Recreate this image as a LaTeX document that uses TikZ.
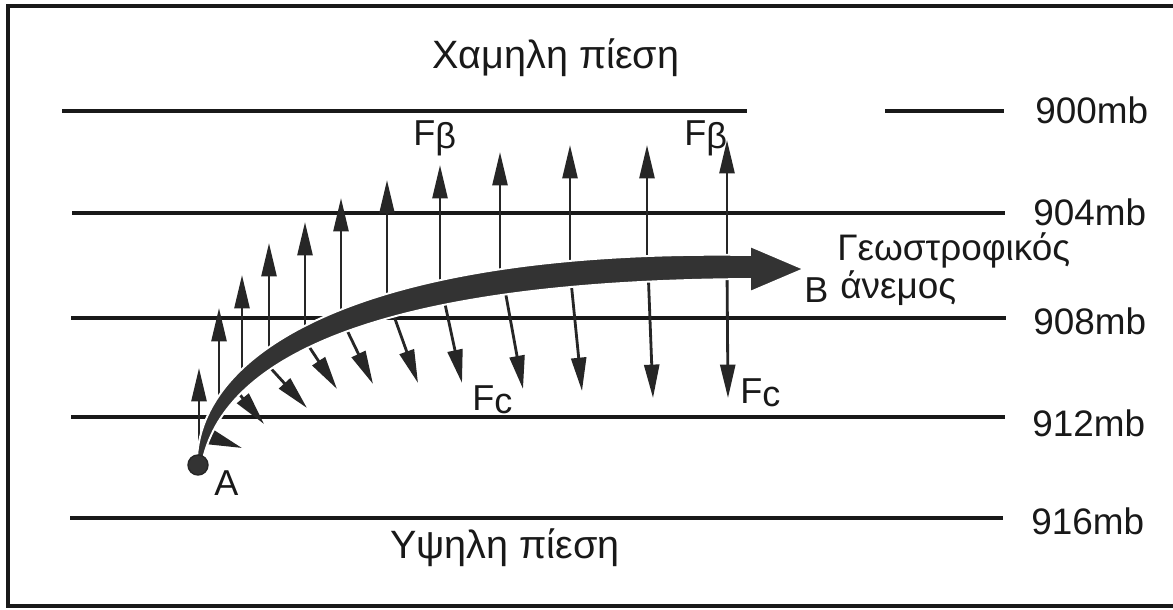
\documentclass[tikz,border=0pt]{standalone}
\usepackage{fontspec}
\setmainfont{Liberation Sans}
\usetikzlibrary{arrows.meta}
\begin{document}
\begin{tikzpicture}[x=0.02cm,y=-0.02cm,
  iso/.style={line width=2.1pt,draw=black!90},
  frc/.style={line width=1.6pt,draw=black!85,-{Triangle[length=19pt,width=8.5pt]}},
  lbl/.style={font=\fontsize{21}{25}\selectfont,inner sep=0pt,text=black!90},
  ttl/.style={font=\fontsize{22.5}{26}\selectfont,inner sep=0pt,text=black!90},
  flbl/.style={font=\fontsize{20.5}{24}\selectfont,inner sep=0pt,text=black!90}]
\useasboundingbox (0,0) rectangle (1173,609);
\fill[white] (0,0) rectangle (1173,609);
% frame
\draw[line width=1.8pt,black!90] (1180,6) -- (8,6) -- (8,606) -- (1180,606);
% isobars
\draw[iso] (62,111) -- (747,111);
\draw[iso] (885,111) -- (1004,111);
\draw[iso] (72,213) -- (1005,213);
\draw[iso] (71,318) -- (1006,318);
\draw[iso] (71,417) -- (1005,417);
\draw[iso] (70,518) -- (1003,518);
% pressure labels
\node[lbl,anchor=base west] (p900) at (1035,123) {900mb};
\node[lbl,anchor=base west] (p904) at (1033,225) {904mb};
\node[lbl,anchor=base west] (p908) at (1033,334) {908mb};
\node[lbl,anchor=base west] (p912) at (1032,436) {912mb};
\node[lbl,anchor=base west] (p916) at (1031,534) {916mb};
\node[ttl,anchor=base] (low) at (556,68) {Χαμηλη πίεση};
\node[ttl,anchor=base] (high) at (505,558) {Υψηλη πίεση};
% F_beta arrows (up)
\draw[frc] (199,458) -- (199,368);
\draw[frc] (219,415) -- (219,308);
\draw[frc] (242,384) -- (242,275);
\draw[frc] (269,360) -- (269,243);
\draw[frc] (305,341) -- (305,222);
\draw[frc] (341,324) -- (341,198);
\draw[frc] (387,304) -- (387,180);
\draw[frc] (440,290) -- (440,165);
\draw[frc] (500,278) -- (500,152);
\draw[frc] (570,270) -- (570,145);
\draw[frc] (647,267) -- (647,145);
\draw[frc] (727,267) -- (727,140);
% F_c arrows (down)
\draw[frc] (208,436) -- (242,448);
\draw[frc] (236,390) -- (264,424);
\draw[frc] (265,362) -- (307,408);
\draw[frc] (306,342) -- (337,389);
\draw[frc] (344,324) -- (373,384);
\draw[frc] (390,305) -- (418,383);
\draw[frc] (442,290) -- (462,383);
\draw[frc] (503,279) -- (523,389);
\draw[frc] (570,271) -- (582,391);
\draw[frc] (648,268) -- (653,398);
\draw[frc] (727,268) -- (728,398);
% geostrophic wind arrow (tapered)
\filldraw[fill=black!80,draw=white,line width=1.1pt]
  (197,457) .. controls (204,344) and (378,249) .. (750,255)
  -- (750,246) -- (804,269) -- (750,292) -- (750,279)
  .. controls (382,281) and (227,356) .. (203,459) -- cycle;
% point A
\filldraw[fill=black!80,draw=black!85,line width=0.8pt] (198,465) circle[radius=10];
% labels
\node[flbl,anchor=base west] (A) at (214,495) {A};
\node[flbl,anchor=base west] (B) at (804,302) {B};
\node[lbl,anchor=base west] (geo1) at (837,260) {Γεωστροφικός};
\node[lbl,anchor=base west] (geo2) at (840,298) {άνεμος};
\node[flbl,anchor=base west] (fb1) at (413,145) {F\raisebox{-2pt}{β}};
\node[flbl,anchor=base west] (fb2) at (684,145) {F\raisebox{-2pt}{β}};
\node[flbl,anchor=base west] (fc1) at (472,410) {F\raisebox{-2pt}{c}};
\node[flbl,anchor=base west] (fc2) at (740,403) {F\raisebox{-2pt}{c}};
\end{tikzpicture}
\end{document}
